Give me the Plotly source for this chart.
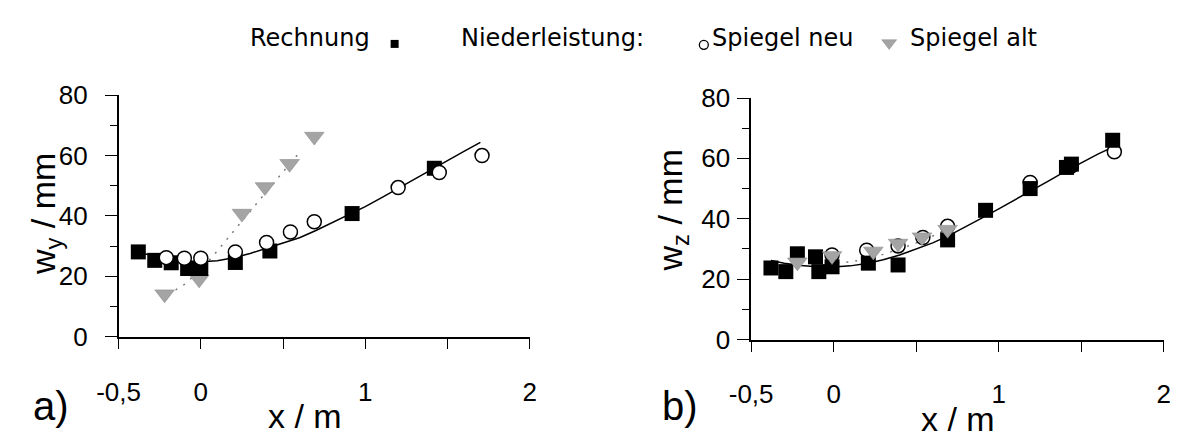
import plotly.graph_objects as go

W, H = 1181, 445

# ---- a) w_y over x ----
rech_a_x = [-0.38, -0.28, -0.18, -0.08, 0.0, 0.21, 0.42, 0.92, 1.42]
rech_a_y = [28.1, 25.3, 24.5, 22.6, 22.6, 24.6, 28.4, 40.8, 55.8]
neu_a_x = [-0.21, -0.10, 0.0, 0.21, 0.40, 0.545, 0.69, 1.20, 1.45, 1.71]
neu_a_y = [26.2, 26.0, 26.0, 28.1, 31.2, 34.7, 38.1, 49.4, 54.4, 60.0]
alt_a_x = [-0.22, -0.01, 0.25, 0.39, 0.54, 0.69]
alt_a_y = [14.1, 19.0, 40.8, 49.6, 57.3, 66.3]
fit_a_x = [-0.4, -0.3, -0.2, -0.1, 0.0, 0.1, 0.2, 0.3, 0.4, 0.5, 0.6,
           0.7, 0.8, 0.9, 1.0, 1.1, 1.2, 1.3, 1.4, 1.5, 1.6, 1.7]
fit_a_y = [28.0, 27.0, 26.0, 25.2, 24.8, 25.2, 26.2, 27.6, 29.3, 31.0, 32.8,
           35.2, 37.8, 40.3, 43.1, 46.1, 49.2, 52.3, 55.4, 58.4, 61.4, 64.4]
alt_fit_a_x = [-0.2, -0.1, 0.0, 0.1, 0.2, 0.3, 0.4, 0.5, 0.6]
alt_fit_a_y = [14.0, 17.3, 22.2, 28.4, 35.0, 41.6, 48.2, 54.6, 61.0]

# ---- b) w_z over x ----
rech_b_x = [-0.38, -0.29, -0.22, -0.11, -0.09, -0.01, 0.21, 0.39, 0.69, 0.92, 1.19, 1.41, 1.44, 1.69]
rech_b_y = [23.7, 22.5, 28.4, 27.4, 22.5, 24.1, 25.3, 24.7, 33.0, 42.8, 50.0, 57.0, 58.1, 66.0]
neu_b_x = [-0.01, 0.20, 0.39, 0.54, 0.69, 1.19, 1.44, 1.70]
neu_b_y = [28.0, 29.6, 31.0, 33.8, 37.5, 52.0, 57.5, 62.2]
alt_b_x = [-0.22, -0.01, 0.24, 0.39, 0.535, 0.69]
alt_b_y = [25.6, 27.7, 29.2, 31.8, 33.9, 36.4]
fit_b_x = [-0.38, -0.3, -0.2, -0.1, 0.0, 0.1, 0.2, 0.3, 0.4, 0.5, 0.6,
           0.7, 0.8, 0.9, 1.0, 1.1, 1.2, 1.3, 1.4, 1.5, 1.6, 1.7]
fit_b_y = [26.2, 25.3, 24.5, 24.1, 24.0, 24.4, 25.2, 26.4, 28.0, 29.9, 32.0,
           34.5, 37.3, 40.3, 43.3, 46.3, 49.4, 52.5, 55.6, 58.6, 61.4, 64.0]
alt_fit_b_x = [-0.25, -0.1, 0.0, 0.1, 0.2, 0.3, 0.4, 0.5, 0.6, 0.7]
alt_fit_b_y = [26.0, 25.4, 25.3, 25.7, 26.7, 28.2, 30.0, 32.0, 34.3, 36.9]

x_ticks = [-0.5, 0, 1, 2]
x_ticktext = ["-0,5", "0", "1", "2"]
x_minor = [0.5, 1.5]
y_ticks = [0, 20, 40, 60, 80]
y_minor = [10, 30, 50, 70]

SQ = dict(symbol="square", size=15, color="black", line=dict(width=0))
CI = dict(symbol="circle", size=14, color="white", line=dict(color="black", width=1.5))
TR = dict(symbol="triangle-down", size=17, color="#a4a4a4", line=dict(color="#8c8c8c", width=0.6))

fig = go.Figure()

def fit_line(x, y, ax, ay):
    fig.add_trace(go.Scatter(x=x, y=y, mode="lines", xaxis=ax, yaxis=ay,
                             line=dict(color="black", width=1.5), cliponaxis=False))

def alt_line(x, y, ax, ay):
    fig.add_trace(go.Scatter(x=x, y=y, mode="lines", xaxis=ax, yaxis=ay,
                             line=dict(color="#7a7a7a", width=1.5, dash="2px,7px"),
                             cliponaxis=False))

def pts(x, y, marker, ax, ay):
    fig.add_trace(go.Scatter(x=x, y=y, mode="markers", xaxis=ax, yaxis=ay,
                             marker=marker, cliponaxis=False))

# panel a
alt_line(alt_fit_a_x, alt_fit_a_y, "x", "y")
fit_line(fit_a_x, fit_a_y, "x", "y")
pts(alt_a_x, alt_a_y, TR, "x", "y")
pts(rech_a_x, rech_a_y, SQ, "x", "y")
pts(neu_a_x, neu_a_y, CI, "x", "y")

# panel b
alt_line(alt_fit_b_x, alt_fit_b_y, "x2", "y2")
fit_line(fit_b_x, fit_b_y, "x2", "y2")
pts(neu_b_x, neu_b_y, CI, "x2", "y2")
pts(rech_b_x, rech_b_y, SQ, "x2", "y2")
pts(alt_b_x, alt_b_y, TR, "x2", "y2")

# legend symbols on a page-sized overlay axis (pixel units)
pts([382], [31], dict(symbol="square", size=8, color="black"), "x3", "y3")
pts([699], [32], dict(symbol="circle", size=9, color="white",
                       line=dict(color="black", width=1.3)), "x3", "y3")
pts([889], [30], dict(symbol="triangle-down", size=13, color="#a4a4a4",
                       line=dict(color="#8c8c8c", width=0.5)), "x3", "y3")

tickfont = dict(family="Liberation Sans", size=26, color="black")

def xax(domain, anchor):
    return dict(domain=domain, range=[-0.5, 2], showline=True, linecolor="black",
                linewidth=1.5, ticks="outside", ticklen=11, tickwidth=1.3,
                tickcolor="black", tickvals=x_ticks, ticktext=x_ticktext,
                tickfont=tickfont, ticklabelstandoff=20, showgrid=False,
                zeroline=False, fixedrange=True, anchor=anchor,
                minor=dict(tickvals=x_minor, ticks="outside", ticklen=11,
                           tickwidth=1.3, tickcolor="black", showgrid=False))

def yax(domain, standoff, anchor):
    return dict(domain=domain, range=[0, 80], showline=True, linecolor="black",
                linewidth=1.5, ticks="outside", ticklen=12, tickwidth=1.3,
                tickcolor="black", tickvals=y_ticks, tickfont=tickfont,
                ticklabelstandoff=standoff, showgrid=False, zeroline=False,
                anchor=anchor, fixedrange=True,
                minor=dict(tickvals=y_minor, ticks="outside", ticklen=7,
                           tickwidth=1.2, tickcolor="black", showgrid=False))

ann_font = dict(family="Liberation Sans", size=34, color="black")
leg_font = dict(family="DejaVu Sans", size=24, color="black")
tag_font = dict(family="Liberation Sans", size=40, color="black")

def txt(x, y, s, font, xanchor="center", yanchor="middle", angle=0):
    return dict(x=x, y=y, xref="x3", yref="y3", text=s, showarrow=False,
                font=font, xanchor=xanchor, yanchor=yanchor, textangle=angle)

annotations = [
    txt(232, 25, "Rechnung", leg_font, xanchor="left"),
    txt(640, 25, "Niederleistung:", leg_font, xanchor="right"),
    txt(705, 25, "Spiegel neu", leg_font, xanchor="left"),
    txt(908, 25, "Spiegel alt", leg_font, xanchor="left"),
    txt(290, 430, "x / m", ann_font),
    txt(960, 433, "x / m", ann_font),
    txt(24, 213, "w<sub>y</sub> / mm", ann_font, angle=-90),
    txt(667, 210, "w<sub>z</sub> / mm", ann_font, angle=-90),
    txt(9, 445, "a)", tag_font, xanchor="left", yanchor="bottom"),
    txt(654, 445, "b)", tag_font, xanchor="left", yanchor="bottom"),
]

fig.update_layout(
    width=W, height=H,
    margin=dict(l=0, r=0, t=0, b=0),
    paper_bgcolor="white", plot_bgcolor="rgba(0,0,0,0)",
    showlegend=False,
    xaxis=xax([99 / W, 520.5 / W], "y"),
    yaxis=yax([1 - 345 / H, 1 - 86 / H], 12, "x"),
    xaxis2=xax([747.5 / W, 1170.6 / W], "y2"),
    yaxis2=yax([1 - 348 / H, 1 - 89 / H], 2, "x2"),
    xaxis3=dict(domain=[0, 1], range=[0, W], visible=False, anchor="y3", fixedrange=True),
    yaxis3=dict(domain=[0, 1], range=[H, 0], visible=False, anchor="x3", fixedrange=True),
    annotations=annotations,
)

fig.write_html("out.html", config=dict(displayModeBar=False))
